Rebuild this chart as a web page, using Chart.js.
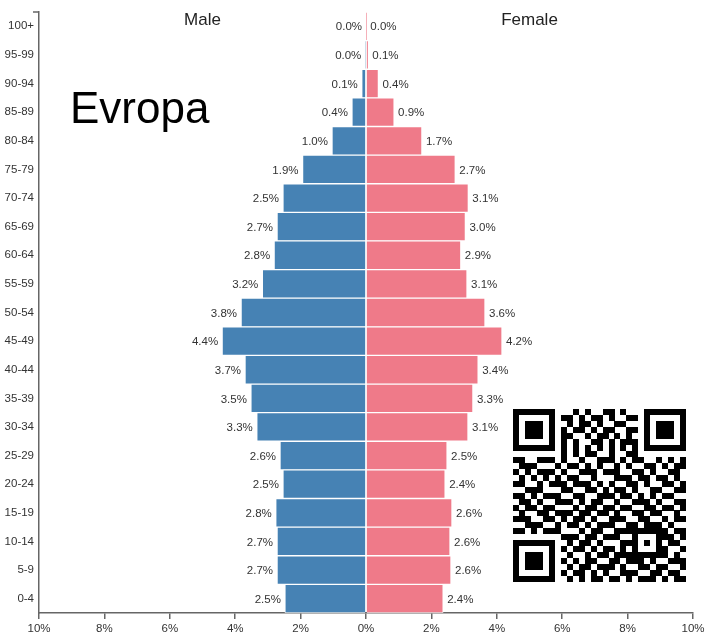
<!DOCTYPE html>
<html>
<head>
<meta charset="utf-8">
<script src="https://cdn.jsdelivr.net/npm/chart.js@4.4.1/dist/chart.umd.min.js"></script>
<style>
  html, body { margin: 0; padding: 0; background: #fff; }
</style>
</head>
<body>
<canvas id="chart" width="716" height="634"></canvas>
<script>
// Age groups, oldest on top
const ageGroups = ['100+', '95-99', '90-94', '85-89', '80-84', '75-79', '70-74', '65-69', '60-64', '55-59',
  '50-54', '45-49', '40-44', '35-39', '30-34', '25-29', '20-24', '15-19', '10-14', '5-9', '0-4']

// Share of total population (%)
const malePct = [0.0, 0.02, 0.13, 0.43, 1.04, 1.94, 2.54, 2.72, 2.81, 3.17,
  3.82, 4.40, 3.70, 3.52, 3.34, 2.63, 2.54, 2.76, 2.72, 2.72, 2.48]
const femalePct = [0.01, 0.07, 0.38, 0.86, 1.71, 2.73, 3.13, 3.04, 2.90, 3.09,
  3.64, 4.16, 3.43, 3.27, 3.12, 2.48, 2.42, 2.63, 2.57, 2.60, 2.36]

const xLimit = 10
const xStep = 2
const regionName = 'Evropa'
const sideTitles = ['Male', 'Female']

const font = '"Liberation Sans", Arial, sans-serif'

// QR code in the lower right: rough module grid, function patterns laid over it below
const qrRows = [
  '10011011001010011010001101100', '01101001110101101001110010011', '10110010010110100110010110101',
  '01001110101101011001101001110', '11010100110010110101011100101', '01100101101001101011100110010',
  '10111010010110010110011011001', '01011001101011001001101100110', '11001110100100111010110010101',
  '01110011011010100101001101011', '10101100100111011100110100110', '01010111011001000111011011010',
  '11001001101110101001101001101', '00111010110011010110100110011', '11010101001100111011010101100',
  '01101011110101100100111010011', '10110110001011011011001101101', '01001101110110110100110110010',
  '11100110101101001110011001011', '00111001011010111001101110100', '11010111000101100111010011011',
  '10101100111011011100100101101', '01101011010110100011011010110', '10010101101101011010110101001',
  '01111010010010110111001011010', '11000111101011001101110100111', '00111001010110111010011011001',
  '11010110101101010011100110110', '01101011010101101101011101011'
]

function qrGrid () {
  const n = qrRows.length
  const g = qrRows.map((row) => row.split('').map((ch) => ch === '1'))
  const finder = (r0, c0) => {
    for (let r = -1; r <= 7; r++) {
      for (let c = -1; c <= 7; c++) {
        const rr = r0 + r
        const cc = c0 + c
        if (rr < 0 || cc < 0 || rr >= n || cc >= n) continue
        const ring = Math.max(Math.abs(r - 3), Math.abs(c - 3))
        g[rr][cc] = ring === 3 || ring <= 1
      }
    }
  }
  finder(0, 0)
  finder(0, n - 7)
  finder(n - 7, 0)
  for (let i = 8; i < n - 8; i++) {
    g[6][i] = i % 2 === 0
    g[i][6] = i % 2 === 0
  }
  // alignment pattern
  for (let r = -2; r <= 2; r++) {
    for (let c = -2; c <= 2; c++) {
      const ring = Math.max(Math.abs(r), Math.abs(c))
      g[22 + r][22 + c] = ring !== 1
    }
  }
  return g
}

const pyramidExtras = {
  id: 'pyramidExtras',
  afterDatasetsDraw (chart) {
    const ctx = chart.ctx
    const xs = chart.scales.x
    const area = chart.chartArea
    ctx.save()

    // value labels at the end of each bar
    ctx.font = '11.5px ' + font
    ctx.fillStyle = '#333'
    ctx.textBaseline = 'middle'
    chart.data.datasets.forEach((ds, i) => {
      chart.getDatasetMeta(i).data.forEach((bar, j) => {
        const text = Math.abs(ds.data[j]).toFixed(1) + '%'
        if (i === 0) {
          ctx.textAlign = 'right'
          ctx.fillText(text, bar.x - 4, bar.y + 1)
        } else {
          ctx.textAlign = 'left'
          ctx.fillText(text, bar.x + 4, bar.y + 1)
        }
      })
    })

    // Male / Female headings centred over each half
    ctx.font = '17px ' + font
    ctx.fillStyle = '#222'
    ctx.textAlign = 'center'
    ctx.fillText(sideTitles[0], xs.getPixelForValue(-xLimit / 2), area.top + 8)
    ctx.fillText(sideTitles[1], xs.getPixelForValue(xLimit / 2), area.top + 8)

    // region name
    ctx.font = '44px ' + font
    ctx.fillStyle = '#000'
    ctx.textAlign = 'left'
    ctx.textBaseline = 'alphabetic'
    ctx.fillText(regionName, 70, 123)

    // outer tick at the top of the y axis
    ctx.strokeStyle = '#666'
    ctx.lineWidth = 1.5
    ctx.beginPath()
    ctx.moveTo(area.left - 6, area.top)
    ctx.lineTo(area.left, area.top)
    ctx.stroke()

    // QR code
    const g = qrGrid()
    const m = 5.97
    const qx = 513
    const qy = 409
    ctx.fillStyle = '#000'
    g.forEach((row, r) => row.forEach((on, c) => {
      if (on) ctx.fillRect(Math.round(qx + c * m), Math.round(qy + r * m), Math.ceil(m), Math.ceil(m))
    }))
    ctx.restore()
  }
}

new Chart(document.getElementById('chart').getContext('2d'), {
  type: 'bar',
  data: {
    labels: ageGroups,
    datasets: [
      {
        label: sideTitles[0],
        data: malePct.map((v) => -v),
        backgroundColor: '#4682b4',
        borderColor: 'rgba(255, 255, 255, 0.75)',
        borderWidth: 1
      },
      {
        label: sideTitles[1],
        data: femalePct,
        backgroundColor: '#ef7a89',
        borderColor: 'rgba(255, 255, 255, 0.75)',
        borderWidth: 1
      }
    ]
  },
  options: {
    indexAxis: 'y',
    responsive: false,
    animation: false,
    barPercentage: 1,
    categoryPercentage: 1,
    layout: { padding: { top: 12, right: 23, bottom: 0, left: 0 } },
    plugins: {
      legend: { display: false },
      tooltip: { enabled: false }
    },
    scales: {
      x: {
        stacked: true,
        min: -xLimit,
        max: xLimit,
        afterFit: (scale) => { scale.height = 21 },
        ticks: {
          stepSize: xStep,
          autoSkip: false,
          maxRotation: 0,
          padding: 3,
          color: '#333',
          font: { family: font, size: 11.5 },
          callback: (v) => Math.abs(v) + '%'
        },
        grid: { drawOnChartArea: false, drawTicks: true, tickLength: 6, color: '#666', lineWidth: 1.5 },
        border: { display: true, color: '#666', width: 1.5 }
      },
      y: {
        stacked: true,
        afterFit: (scale) => { scale.width = 39 },
        ticks: {
          padding: 5,
          color: '#333',
          font: { family: font, size: 11.5 }
        },
        grid: { display: false, drawTicks: false },
        border: { display: true, color: '#666', width: 1.5 }
      }
    }
  },
  plugins: [pyramidExtras]
})
</script>
</body>
</html>
